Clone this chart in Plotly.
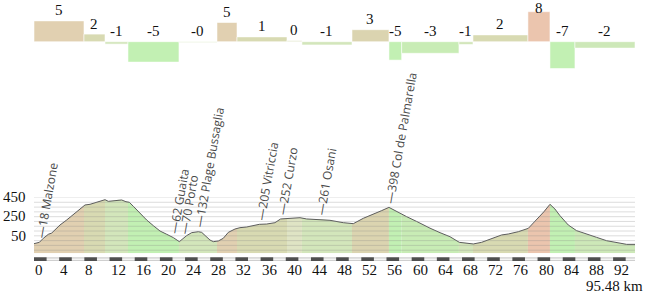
import numpy as np
import plotly.graph_objects as go

# ---------------- data ----------------
profile_km = [0.00, 0.85, 1.48, 2.28, 2.81, 3.34, 4.13, 5.19, 6.25, 7.31, 8.10, 8.90, 9.69, 10.48,
              11.28, 11.81, 12.61, 13.40, 13.93, 14.61, 15.14, 15.78, 16.84, 17.90, 18.96, 20.02,
              21.08, 22.14, 23.09, 23.62, 24.25, 25.05, 26.11, 26.64, 27.16, 27.96, 28.49, 29.28,
              30.07, 30.87, 31.93, 32.72, 33.78, 34.84, 35.80, 36.96, 38.28, 39.18, 40.67, 42.26,
              43.31, 45.43, 47.02, 49.14, 50.73, 52.32, 53.91, 55.23, 56.39, 57.61, 59.20, 60.79,
              62.00, 62.91, 64.50, 66.08, 67.57, 68.73, 69.79, 71.11, 72.70, 74.29, 75.35, 76.94,
              78.53, 79.85, 81.02, 81.97, 82.76, 83.56, 84.88, 86.20, 87.79, 89.38, 90.97, 92.56,
              94.15, 95.48]
profile_ele = [18, 32, 74, 116, 129, 161, 213, 265, 324, 380, 422, 429, 443, 456,
               477, 460, 467, 477, 474, 456, 450, 408, 335, 265, 206, 150,
               116, 81, 39, 67, 102, 133, 143, 136, 102, 56, 39, 46,
               74, 136, 171, 185, 192, 209, 220, 223, 237, 276, 286, 289,
               276, 272, 262, 237, 227, 283, 324, 363, 397, 352, 300, 250,
               205, 180, 133, 91, 32, 25, 15, 32, 67, 109, 119, 143,
               178, 265, 352, 429, 380, 310, 213, 154, 116, 84, 49, 28,
               11, 11]

segment_bounds = [0.00, 7.94, 11.28, 14.93, 23.03, 29.07, 32.25, 40.19, 42.57, 50.52,
                  56.39, 58.41, 67.51, 69.74, 78.47, 81.97, 85.94, 95.48]
segment_grade = [5.2, 1.9, -0.6, -5.1, -0.2, 4.8, 1.2, 0.3, -0.8, 3.0,
                 -4.6, -2.9, -0.7, 1.7, 7.5, -6.7, -1.6]

waypoint_km = [0.85, 22.10, 23.70, 26.10, 35.80, 39.20, 45.40, 56.39]
waypoint_ele = [18, 62, 70, 132, 205, 252, 261, 398]
waypoint_name = ["Malzone", "Guaita", "Porto", "Plage Bussaglia", "Vitriccia", "Curzo", "Osani",
                 "Col de Palmarella"]

x_ticks = list(range(0, 93, 4))
y_ticks = [50, 250, 450]
grid_levels = list(range(-50, 501, 50))
total_km = 95.48

# ---------------- styling ----------------
W, H = 650, 294
ML, MR = 34, 15
PROF_TOP_PX, PROF_BOT_PX = 197.5, 253.3
Y_MAX = 500
PX_PER_M = 0.0958
Y_MIN = Y_MAX - (PROF_BOT_PX - PROF_TOP_PX) / PX_PER_M
BAR_TOP_PX, BAR_BOT_PX = 0.0, 88.0
BAR_BASE_PX = 41.7
PX_PER_PCT = 4.0
Y2_RANGE = [-(BAR_BOT_PX - BAR_BASE_PX) / PX_PER_PCT, (BAR_BASE_PX - BAR_TOP_PX) / PX_PER_PCT]

SERIF = "Liberation Serif"
SANS = "Open Sans"


def grade_color(g):
    if g >= 6.5:
        return "#ebc5ae"
    if g >= 4:
        return "#e1d0b1"
    if g >= 2.5:
        return "#dbd4b0"
    if g >= 1:
        return "#d8dab2"
    if g >= 0:
        return "#dfe4c4"
    if g >= -1:
        return "#d3e6bb"
    if g >= -2:
        return "#cde8b8"
    if g >= -4:
        return "#c8ecb5"
    return "#c2f0b3"


def pfrac(px):
    return 1 - px / H


fig = go.Figure()

pk = np.array(profile_km)
pe = np.array(profile_ele, dtype=float)

# coloured fills under the profile, one per gradient segment
for i, g in enumerate(segment_grade):
    a, b = segment_bounds[i], segment_bounds[i + 1]
    mask = (pk > a) & (pk < b)
    xs = [a] + list(pk[mask]) + [b, b, a]
    ys = [float(np.interp(a, pk, pe))] + list(pe[mask]) + [float(np.interp(b, pk, pe)), Y_MIN, Y_MIN]
    fig.add_trace(go.Scatter(x=xs, y=ys, fill="toself", fillcolor=grade_color(g),
                             line=dict(width=0), mode="lines", hoverinfo="skip"))

# profile line
fig.add_trace(go.Scatter(x=profile_km, y=profile_ele, mode="lines",
                         line=dict(color="#5c5c5c", width=1), hoverinfo="skip"))

# gradient bars on top
centers = [(segment_bounds[i] + segment_bounds[i + 1]) / 2 for i in range(len(segment_grade))]
widths = [segment_bounds[i + 1] - segment_bounds[i] for i in range(len(segment_grade))]
fig.add_trace(go.Bar(x=centers, y=segment_grade, width=widths, base=0, yaxis="y2",
                     marker=dict(color=[grade_color(g) for g in segment_grade],
                                 line=dict(color="rgba(255,255,255,0.55)", width=1)),
                     hoverinfo="skip"))

annotations = []
cap = Y2_RANGE[1] - 8 / PX_PER_PCT
for c, g in zip(centers, segment_grade):
    ly = min(max(g, 0) + 10.5 / PX_PER_PCT, cap)
    annotations.append(dict(x=c, y=ly, xref="x", yref="y2", text=format(round(g, 0), ".0f"),
                            showarrow=False, xanchor="center", yanchor="middle",
                            font=dict(family=SERIF, size=15, color="#111")))

# waypoint labels (rotated)
LFS = 12
LH = LFS * 1.35
for km, ele, name in zip(waypoint_km, waypoint_ele, waypoint_name):
    py = float(np.interp(km, pk, pe))
    annotations.append(dict(x=km, y=py, xref="x", yref="y", text=f"—{ele} {name}",
                            textangle=-80, showarrow=False, xanchor="left", yanchor="bottom",
                            xshift=-0.49 * LH, yshift=0.087 * LH + 1.5, borderpad=0, borderwidth=0,
                            font=dict(family=SANS, size=LFS, color="#4a4a4a")))

# y labels
for v in y_ticks:
    annotations.append(dict(x=0, y=v, xref="x", yref="y", text=str(v), showarrow=False,
                            xanchor="right", yanchor="middle", xshift=-6, yshift=5,
                            font=dict(family=SERIF, size=15, color="#111")))

# x tick labels (left aligned at the tick)
for t in x_ticks:
    annotations.append(dict(x=t, y=pfrac(270), xref="x", yref="paper", text=str(t),
                            showarrow=False, xanchor="left", yanchor="middle", xshift=-1,
                            font=dict(family=SERIF, size=15, color="#111")))
annotations.append(dict(x=1, y=pfrac(286), xref="paper", yref="paper", text=f"{total_km:.2f} km",
                        showarrow=False, xanchor="right", yanchor="middle", xshift=10,
                        font=dict(family=SERIF, size=15, color="#111")))

shapes = []
for v in grid_levels:
    shapes.append(dict(type="line", xref="x", yref="y", x0=0, x1=total_km, y0=v, y1=v,
                       line=dict(color="rgba(130,130,130,0.28)", width=1), layer="above"))

# dashed distance bar
b0, b1 = pfrac(261), pfrac(257.3)
shapes.append(dict(type="rect", xref="x", yref="paper", x0=0, x1=total_km, y0=b0, y1=b1,
                   fillcolor="#cfcfcf", line=dict(width=0), layer="above"))
shapes.append(dict(type="line", xref="x", yref="paper", x0=0, x1=total_km,
                   y0=(b0 + b1) / 2, y1=(b0 + b1) / 2,
                   line=dict(color="#f4f4f4", width=1.5), layer="above"))
for t in x_ticks:
    shapes.append(dict(type="rect", xref="x", yref="paper", x0=t, x1=min(t + 2, total_km),
                       y0=b0, y1=b1, fillcolor="#4f4f4f", line=dict(width=0), layer="above"))

fig.update_layout(
    width=W, height=H,
    margin=dict(l=ML, r=MR, t=0, b=0, pad=0, autoexpand=False),
    paper_bgcolor="white", plot_bgcolor="rgba(0,0,0,0)",
    showlegend=False, bargap=0,
    xaxis=dict(range=[0, total_km], visible=False, fixedrange=True, automargin=False),
    yaxis=dict(domain=[pfrac(PROF_BOT_PX), pfrac(PROF_TOP_PX)], range=[Y_MIN, Y_MAX],
               visible=False, fixedrange=True, automargin=False),
    yaxis2=dict(domain=[pfrac(BAR_BOT_PX), pfrac(BAR_TOP_PX)], range=Y2_RANGE, anchor="x",
                visible=False, fixedrange=True, automargin=False),
    annotations=annotations, shapes=shapes,
)

fig.write_html("out.html", config={"displayModeBar": False, "staticPlot": True})
